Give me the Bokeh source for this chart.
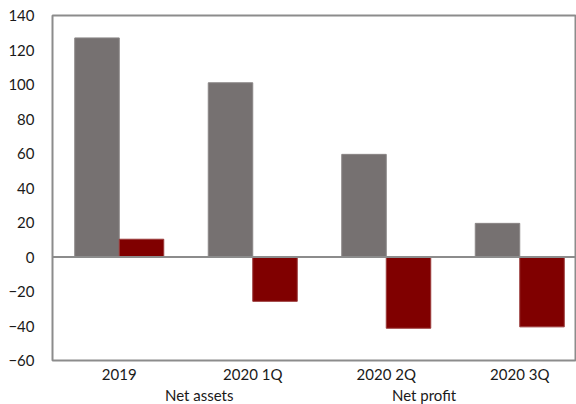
from bokeh.plotting import figure
from bokeh.layouts import column
from bokeh.models import Range1d, FixedTicker, Span, Legend, LegendItem
from bokeh.embed import file_html
from bokeh.resources import INLINE

categories = ["2019", "2020 1Q", "2020 2Q", "2020 3Q"]
net_assets = [127, 101, 59.5, 19.5]
net_profit = [10.3, -25.7, -41.3, -40.5]
y_ticks = [-60, -40, -20, 0, 20, 40, 60, 80, 100, 120, 140]
series_names = ["Net assets", "Net profit"]

FONT = "Lato"
GRAY = "#767171"
RED = "#800000"

p = figure(frame_width=524, frame_height=345,
           output_backend="svg", toolbar_location=None,
           x_range=Range1d(0, 3.925), y_range=Range1d(-60, 140),
           min_border_left=52, min_border_right=0, min_border_top=15, min_border_bottom=0)

centers = [i + 0.5 for i in range(len(categories))]
xa = [c - 1/6 for c in centers]
xp = [c + 1/6 for c in centers]

p.vbar(x=xa, top=net_assets, bottom=0, width=1/3, fill_color=GRAY, line_color="#8a8686", line_width=1)
p.vbar(x=xp, top=net_profit, bottom=0, width=1/3, fill_color=RED, line_color="#9a3a3a", line_width=1)

p.add_layout(Span(location=0, dimension="width", line_color="#8c8c8c", line_width=2))

p.grid.visible = False
p.outline_line_color = "#8c8c8c"
p.outline_line_width = 2
p.background_fill_color = "white"
p.border_fill_color = "white"

p.yaxis.ticker = FixedTicker(ticks=y_ticks)
p.yaxis.axis_line_color = None
p.yaxis.major_tick_line_color = None
p.yaxis.minor_tick_line_color = None
p.yaxis.major_label_standoff = 12
p.yaxis.major_label_text_font = FONT
p.yaxis.major_label_text_font_size = "15px"
p.yaxis.major_label_text_color = "#1a1a1a"

p.xaxis.ticker = FixedTicker(ticks=centers)
p.xaxis.major_label_overrides = {c: lab for c, lab in zip(centers, categories)}
p.xaxis.axis_line_color = None
p.xaxis.major_tick_line_color = None
p.xaxis.minor_tick_line_color = None
p.xaxis.major_tick_out = 0
p.xaxis.major_label_standoff = 4
p.xaxis.major_label_text_font = FONT
p.xaxis.major_label_text_font_size = "15px"
p.xaxis.major_label_text_color = "#1a1a1a"

# Legend strip below the chart
p2 = figure(frame_width=524, frame_height=20, output_backend="svg", toolbar_location=None,
            x_range=Range1d(0, 1), y_range=Range1d(0, 1),
            x_axis_location=None, y_axis_location=None,
            min_border_left=52, min_border_right=0, min_border_top=0, min_border_bottom=0)
p2.outline_line_color = None
p2.grid.visible = False
p2.background_fill_color = "white"
p2.border_fill_color = "white"

d1 = p2.vbar(x=[], top=[], width=0.1, fill_color=GRAY, line_color="#8a8686")
d2 = p2.vbar(x=[], top=[], width=0.1, fill_color=RED, line_color="#9a3a3a")

legend = Legend(items=[LegendItem(label=series_names[0], renderers=[d1]),
                       LegendItem(label=series_names[1], renderers=[d2])],
                location="center", orientation="horizontal",
                glyph_width=11, glyph_height=11, label_standoff=4, label_width=86,
                label_height=16, padding=0, margin=0, spacing=126,
                border_line_alpha=0, background_fill_alpha=0,
                label_text_font=FONT, label_text_font_size="15px", label_text_color="#1a1a1a")
p2.add_layout(legend)

layout = column(p, p2, spacing=0)

open("out.html", "w").write(file_html(layout, INLINE))
